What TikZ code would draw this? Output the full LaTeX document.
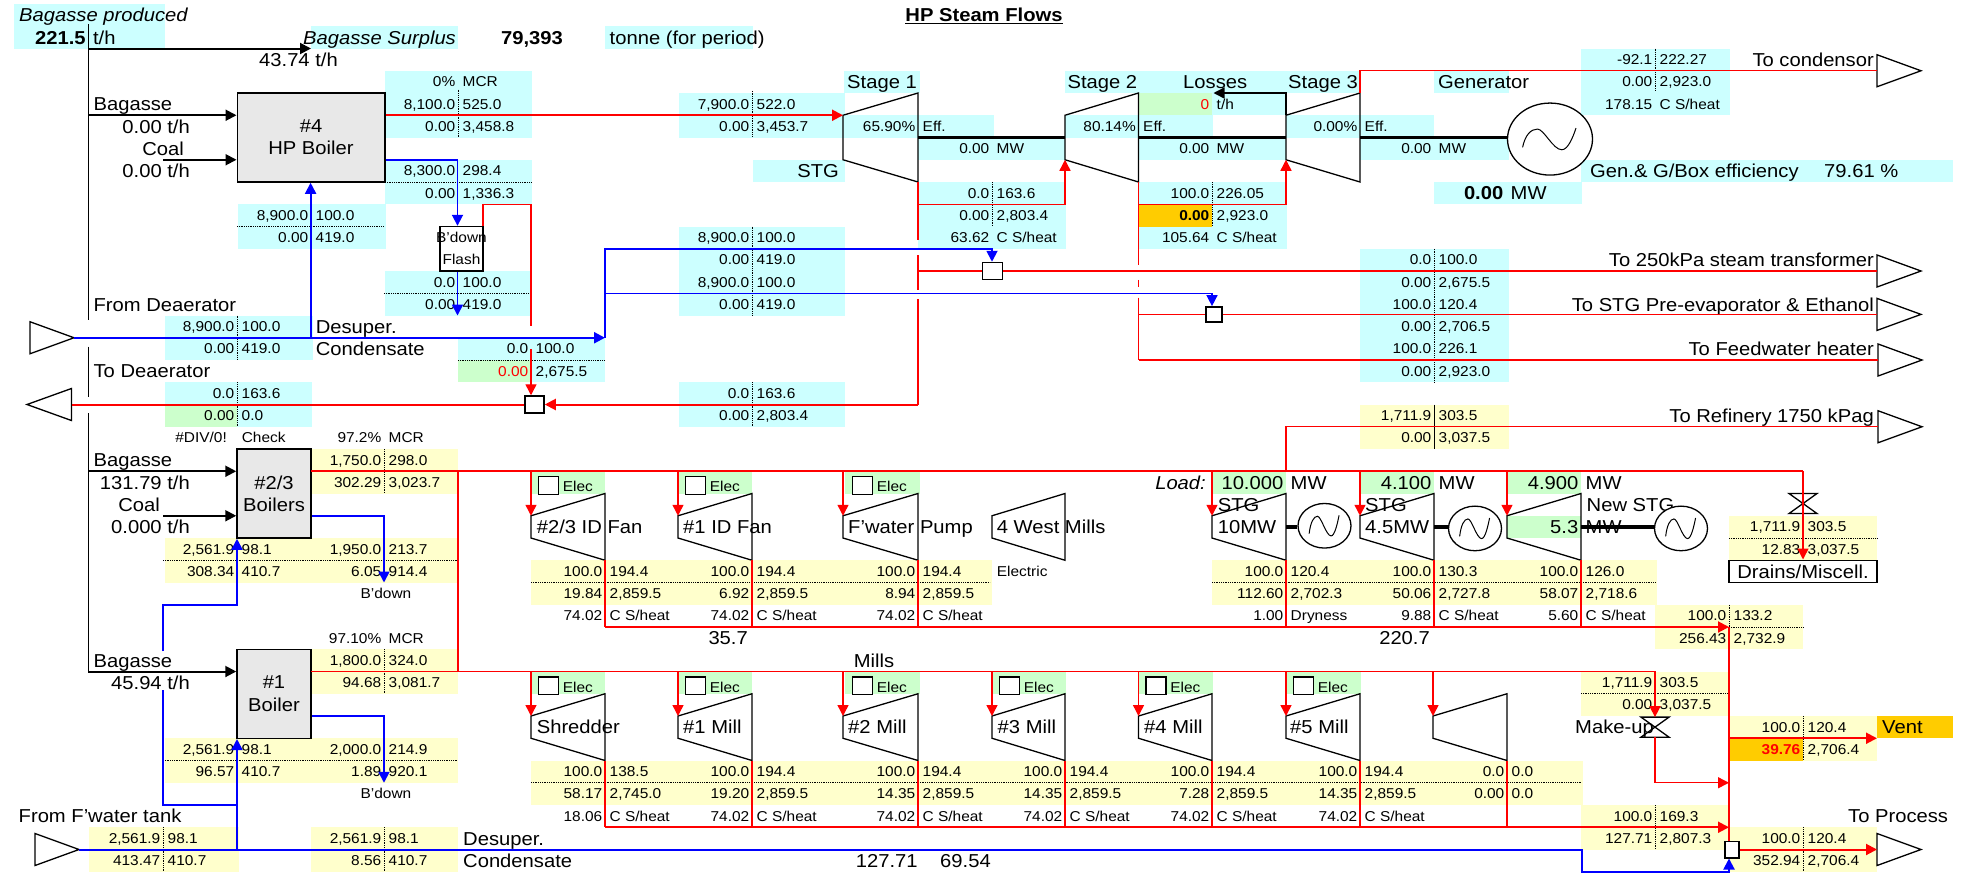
\documentclass[tikz,border=0pt]{standalone}
\usepackage{fontspec}
\setmainfont[FakeStretch=1.08]{Liberation Sans}
\usetikzlibrary{arrows.meta,shapes.geometric}
\definecolor{cellcyan}{RGB}{204,255,255}
\definecolor{cellyellow}{RGB}{255,255,204}
\definecolor{cellgreen}{RGB}{204,255,204}
\definecolor{cellorange}{RGB}{255,204,0}
\definecolor{boilgrey}{RGB}{232,232,232}
\definecolor{steamred}{RGB}{255,0,0}
\definecolor{waterblue}{RGB}{0,0,255}
\newcommand{\smallfont}{\fontsize{14.3}{16}\selectfont}
\newcommand{\bigfont}{\fontsize{18.7}{22.25}\selectfont}
\tikzset{
  valL/.style={anchor=east,xshift=-2.5pt,inner sep=0pt,font=\smallfont,text height=10pt,text depth=0pt},
  valR/.style={anchor=west,xshift=4.5pt,inner sep=0pt,font=\smallfont,text height=10pt,text depth=0pt},
  big/.style={font=\bigfont,text height=13.3pt},
  txtS/.style={inner sep=0pt,font=\smallfont,text height=10pt,text depth=0pt},
  txtB/.style={inner sep=0pt,font=\bigfont,text height=13.3pt,text depth=0pt},
  boiler/.style={draw,line width=1.5pt,fill=boilgrey,inner sep=0pt,align=center,font=\bigfont},
  flashbox/.style={draw,line width=1.4pt,inner sep=0pt,align=center,font=\smallfont},
  mixbox/.style={draw,line width=1.5pt,fill=white,inner sep=0pt},
  checkbox/.style={draw,line width=1.4pt,fill=white,inner sep=0pt,minimum width=20pt,minimum height=17.5pt},
  turbshape/.style={draw,line width=1.3pt},
  portshape/.style={draw,line width=1.3pt,fill=white},
  genshape/.style={ellipse,draw,line width=1.3pt,fill=white,inner sep=0pt},
  gencurve/.style={draw,line width=1pt},
  shaft/.style={draw,line width=3.5pt},
  splitline/.style={draw,line width=.8pt,densely dotted},
  feedline/.style={draw,line width=1.4pt},
  feedflow/.style={draw,line width=2pt,-{Stealth[length=11pt,width=11pt,inset=0pt]}},
  redfine/.style={draw=steamred,line width=1.4pt},
  redmain/.style={draw=steamred,line width=2pt},
  redflow/.style={redfine,-{Stealth[length=11pt,width=11pt,inset=0pt]}},
  redmainflow/.style={redmain,-{Stealth[length=11pt,width=11pt,inset=0pt]}},
  bluefine/.style={draw=waterblue,line width=1.5pt},
  blueflow/.style={draw=waterblue,line width=1.8pt,-{Stealth[length=11pt,width=11pt,inset=0pt]}}
}
\newcommand{\pair}[6][]{%
  \node[valL,#1] (#2L) at (#3,#4+.5) {#5};
  \node[valR,#1] (#2R) at (#3,#4+.5) {#6};}
\newcommand{\stream}[7]{\pair{#1u}{#2}{#3}{#4}{#5}\pair{#1v}{#2}{#3+1}{#6}{#7}}
\newcommand{\turbine}[5]{%
  \draw[turbshape] (#2,#4+1) -- (#3,#4) -- (#3,#4+#5) -- (#2,#4+#5-1) -- cycle;
  \coordinate (#1-in) at (#2,#4+1);
  \coordinate (#1-sd) at (#2,#4+#5-1);
  \coordinate (#1-tr) at (#3,#4);
  \coordinate (#1-out) at (#3,#4+#5);
  \coordinate (#1-ls) at (#2,#4+#5/2);
  \coordinate (#1-rs) at (#3,#4+#5/2);}
\newcommand{\genset}[7]{%
  \node[genshape,minimum width=#4pt,minimum height=#5pt] (#1) at (#2,#3) {};
  \begin{scope}[shift={(#1.center)},x=#6pt,y=#7pt]
    \draw[gencurve] (-27.4,-8.3) .. controls (-25,4) and (-19,10) .. (-12.6,10)
      .. controls (-6,10) and (3,-10.7) .. (11.8,-10.7)
      .. controls (18,-10.7) and (23,2) .. (26,11);
  \end{scope}}
\newcommand{\port}[4]{%
  \coordinate (#1-in) at (#2,#3);
  \coordinate (#1-tip) at (#2+#4,#3);
  \draw[portshape] (#2,#3-.72) -- (#1-tip) -- (#2,#3+.72) -- cycle;}
\newcommand{\valve}[3]{%
  \draw[turbshape] (#2-14,#3) -- (#2+14,#3+.9) -- (#2-14,#3+.9) -- (#2+14,#3) -- cycle;
  \coordinate (#1-top) at (#2,#3);
  \coordinate (#1-bot) at (#2,#3+.9);}
\begin{document}
\begin{tikzpicture}[x=1pt,y=-22.25pt]
  \useasboundingbox (0,-.18) rectangle (1966,39.056);

  % cell shading
  \foreach \xa/\ra/\xb/\rb in {14/0/165/2,311/1/458/2,605/1/753/2,385/3/532/6,385/7/532/9,238/9/386/11,385/12/531/14,
    165/14/313/16,458/15/605/16,531/16/605/17,165/17/312/18,237/18/312/19,844/3/920/4,679/4/845/6,845/5/994/6,
    918/6/1065/7,753/7/845/8,918/8/1066/11,679/10/845/14,679/17/845/19,1065/3/1286/4,1212/4/1286/5,1065/5/1213/6,
    1138/6/1286/7,1138/8/1287/9,1212/9/1287/10,1138/10/1287/11,1286/3/1360/4,1286/5/1434/6,1360/6/1509/7,1434/3/1509/4,
    1434/8/1582/9,1581/2/1730/5,1581/7/1953/8,1360/11/1509/17}{\fill[cellcyan] (\xa,\ra) rectangle (\xb,\rb);}
  \foreach \xa/\ra/\xb/\rb in {1360/18/1509/20,311/20/458/22,165/24/458/26,311/29/458/31,165/33/458/35,89/37/239/39,
    311/37/458/39,531/25/992/27,1212/25/1657/27,531/34/1583/36,1655/27/1803/29,1729/23/1877/25,1581/30/1729/32,
    1729/32/1877/33,1803/33/1877/34,1581/36/1729/38,1729/37/1877/39}{\fill[cellyellow] (\xa,\ra) rectangle (\xb,\rb);}
  \foreach \xa/\ra/\xb/\rb in {165/18/237/19,458/16/531/17,1138/4/1212/5,531/21/605/22,678/21/752/22,845/21/920/22,
    1212/21/1286/22,1360/21/1434/22,1507/21/1581/22,1507/23/1581/24,531/30/605/31,678/30/752/31,845/30/920/31,
    992/30/1066/31,1138/30/1213/31,1286/30/1361/31}{\fill[cellgreen] (\xa,\ra) rectangle (\xb,\rb);}
  \foreach \xa/\ra/\xb/\rb in {1138/9/1212/10,1729/33/1803/34,1877/32/1953/33}{\fill[cellorange] (\xa,\ra) rectangle (\xb,\rb);}

  % dotted cell splits
  \foreach \x/\a/\b in {458/3.85/6,237/14/16,237/17/19,752/3.9/6,752/10/14,752/17/19,992/8/10,1212/8/10,1655/2/3.9,
    1434/11/17,384/20/22,384/29/31,163/37/39,384/37/39,1803/32/34,1803/37/39,1655/36/38,1729/27/29}{\draw[splitline] (\x,\a) -- (\x,\b);}
  \foreach \y/\a/\b in {8/385/531,10/237/384,13/384/531,16/458/605,25/163/458,34/163/458,26/531/990,26/1212/1655,
    35/531/1581,24/1729/1877,31/1581/1729,28/1729/1803}{\draw[splitline] (\a,\y) -- (\b,\y);}
  \draw[feedline,line width=.8pt] (1434,18) -- (1434,20);

  % boilers and boxes
  \node[boiler,minimum width=147.5pt,minimum height=89pt] (boilHP) at (311,6) {\#4\\HP Boiler};
  \node[boiler,minimum width=74pt,minimum height=89pt] (boil23) at (274,22) {\#2/3\\Boilers};
  \node[boiler,minimum width=74pt,minimum height=89pt] (boil1) at (274,31) {\#1\\Boiler};
  \node[flashbox,minimum width=43pt,minimum height=44.5pt] (flash) at (461.5,11) {\makebox[0pt]{B'down}\\[6pt]Flash};
  \node[mixbox,minimum width=148pt,minimum height=22.25pt,font=\bigfont] (drains) at (1803,25.5) {Drains/Miscell.};
  \node[mixbox,minimum width=19pt,minimum height=17pt] (sqA) at (534.5,18) {};
  \node[mixbox,minimum width=20pt,minimum height=17pt] (sqB) at (992.5,12) {};
  \node[mixbox,minimum width=16pt,minimum height=15pt] (sqC) at (1214,13.95) {};
  \node[mixbox,minimum width=14.4pt,minimum height=16.5pt] (sqD) at (1732,38) {};

  % big labels
  \foreach \n/\x/\y/\lab in {lbBag/93.4/4.5/Bagasse,lbFrD/93.4/13.5/From Deaerator,lbToD/93.4/16.5/To Deaerator,
    lbDsA/315.6/14.5/Desuper.,lbCnA/315.6/15.5/Condensate,lbSt1/847/3.5/Stage 1,lbSt2/1067.4/3.5/Stage 2,
    lbLos/1183/3.5/Losses,lbSt3/1288/3.5/Stage 3,lbGen/1438/3.5/Generator,lbEff/1590/7.5/{Gen.\& G/Box efficiency},
    lbEffV/1824/7.5/{79.61 \%},lbToN/609.5/1.5/{tonne (for period)},lbBgB/93.4/20.5/Bagasse,lbBgC/93.4/29.5/Bagasse,
    lbFwt/18.5/36.5/{From F'water tank},lbDsB/463/37.5/Desuper.,lbCnB/463/38.5/Condensate,lbMil/853.6/29.5/Mills,
    lbFanA/536.6/23.5/{\#2/3 ID Fan},lbFanB/683/23.5/{\#1 ID Fan},lbPmp/848/23.5/{F'water Pump},lbWst/996.7/23.5/{4 West Mills},
    lbStgA/1217.7/22.5/STG,lbTenM/1217.7/23.5/10MW,lbStgB/1365/22.5/STG,lbFouM/1365/23.5/4.5MW,lbNew/1586.5/22.5/New STG,
    lbShr/536.6/32.5/Shredder,lbMA/683/32.5/{\#1 Mill},lbMB/848/32.5/{\#2 Mill},lbMC/997.5/32.5/{\#3 Mill},
    lbMD/1144/32.5/{\#4 Mill},lbME/1290/32.5/{\#5 Mill},lbVnt/1882/32.5/Vent,lbMku/1575/32.5/Make-up,
    lbNa/855.7/38.5/127.71,lbNb/940/38.5/69.54,lbPrc/1848/36.5/To Process}
    {\node[txtB,anchor=west] (\n) at (\x,\y) {\lab};}
  \foreach \n/\x/\y/\lab in {lbSrp/338/2.5/{43.74 t/h},lbHPa/190/5.5/{0.00 t/h},lbCoA/184/6.5/Coal,lbHPb/190/7.5/{0.00 t/h},
    lbStg/839/7.5/STG,lbCnd/1874/2.5/To condensor,lbTrn/1874/11.5/To 250kPa steam transformer,
    lbEth/1874/13.5/{To STG Pre-evaporator \& Ethanol},lbFdw/1874/15.5/To Feedwater heater,lbRef/1874/18.5/To Refinery 1750 kPag,
    lbBgV/190/21.5/{131.79 t/h},lbCoB/160/22.5/Coal,lbCoV/190/23.5/{0.000 t/h},lbBcV/190/30.5/{45.94 t/h},
    lbSma/748/28.5/35.7,lbSmb/1430/28.5/220.7}
    {\node[txtB,anchor=east] (\n) at (\x,\y) {\lab};}
  \node[txtB,anchor=west,font=\bigfont\itshape] (lbPrd) at (19,.5) {Bagasse produced};
  \node[txtB,anchor=west,font=\bigfont\itshape] (lbSur) at (303,1.5) {Bagasse Surplus};
  \node[txtB,font=\bigfont\bfseries] (lbTon) at (532,1.5) {79,393};
  \node[txtB,font=\bigfont\bfseries] (lbHed) at (984,.5) {\underline{HP Steam Flows}};
  \node[txtB,anchor=east,font=\bigfont\itshape] (lbLod) at (1206,21.5) {Load:};
  \pair[big]{prod}{88.4}{1}{\textbf{221.5}}{t/h}
  \pair[big]{lda}{1286}{21}{10.000}{MW}
  \pair[big]{ldb}{1434}{21}{4.100}{MW}
  \pair[big]{ldc}{1581}{21}{4.900}{MW}
  \pair[big]{ldd}{1581}{23}{5.3}{MW}
  \pair[big]{gmw}{1506}{8}{\textbf{0.00}}{MW}

  % steam tables
  \pair{mcrH}{458}{3}{0\%}{MCR}
  \stream{sHa}{458}{4}{8,100.0}{525.0}{0.00}{3,458.8}
  \stream{sHb}{458}{7}{8,300.0}{298.4}{0.00}{1,336.3}
  \stream{sHc}{311}{9}{8,900.0}{100.0}{0.00}{419.0}
  \stream{sHd}{458}{12}{0.0}{100.0}{0.00}{419.0}
  \stream{sHe}{237}{14}{8,900.0}{100.0}{0.00}{419.0}
  \stream{sHf}{531}{15}{0.0}{100.0}{\textcolor{steamred}{0.00}}{2,675.5}
  \stream{sHg}{237}{17}{0.0}{163.6}{0.00}{0.0}
  \stream{sTa}{752}{4}{7,900.0}{522.0}{0.00}{3,453.7}
  \pair{effA}{918}{5}{65.90\%}{Eff.}
  \pair{effB}{1138.5}{5}{80.14\%}{Eff.}
  \pair{effC}{1360}{5}{0.00\%}{Eff.}
  \pair{mwA}{992}{6}{0.00}{MW}
  \pair{mwB}{1212}{6}{0.00}{MW}
  \pair{mwC}{1434}{6}{0.00}{MW}
  \pair{losR}{1212}{4}{\textcolor{steamred}{0}}{t/h}
  \stream{sTb}{992}{8}{0.0}{163.6}{0.00}{2,803.4}
  \pair{sTbh}{992}{10}{63.62}{C S/heat}
  \stream{sTc}{1212}{8}{100.0}{226.05}{\textbf{0.00}}{2,923.0}
  \pair{sTch}{1212}{10}{105.64}{C S/heat}
  \stream{sTd}{752}{10}{8,900.0}{100.0}{0.00}{419.0}
  \stream{sTe}{752}{12}{8,900.0}{100.0}{0.00}{419.0}
  \stream{sTf}{752}{17}{0.0}{163.6}{0.00}{2,803.4}
  \stream{sCa}{1655}{2}{-92.1}{222.27}{0.00}{2,923.0}
  \pair{sCah}{1655}{4}{178.15}{C S/heat}
  \stream{sPa}{1434}{11}{0.0}{100.0}{0.00}{2,675.5}
  \stream{sPb}{1434}{13}{100.0}{120.4}{0.00}{2,706.5}
  \stream{sPc}{1434}{15}{100.0}{226.1}{0.00}{2,923.0}
  \stream{sPd}{1434}{18}{1,711.9}{303.5}{0.00}{3,037.5}
  \node[txtS,anchor=east] (lbDiv) at (227,19.5) {\#DIV/0!};
  \node[txtS,anchor=west] (lbChk) at (241.6,19.5) {Check};
  \pair{mcrA}{384}{19}{97.2\%}{MCR}
  \pair{mcrB}{384}{28}{97.10\%}{MCR}
  \stream{sBa}{384}{20}{1,750.0}{298.0}{302.29}{3,023.7}
  \stream{sBb}{237}{24}{2,561.9}{98.1}{308.34}{410.7}
  \stream{sBc}{384}{24}{1,950.0}{213.7}{6.05}{914.4}
  \stream{sBd}{384}{29}{1,800.0}{324.0}{94.68}{3,081.7}
  \stream{sBe}{237}{33}{2,561.9}{98.1}{96.57}{410.7}
  \stream{sBf}{384}{33}{2,000.0}{214.9}{1.89}{920.1}
  \stream{sBg}{163}{37}{2,561.9}{98.1}{413.47}{410.7}
  \stream{sBh}{384}{37}{2,561.9}{98.1}{8.56}{410.7}
  \node[txtS] (lbBdA) at (386,26.5) {B'down};
  \node[txtS] (lbBdB) at (386,35.5) {B'down};
  \node[txtS,anchor=west] (lbEle) at (996.7,25.5) {Electric};
  \foreach \n/\x/\r/\ua/\ub/\va/\vb/\ha/\hb in {
    Fa/605/25/100.0/194.4/19.84/{2,859.5}/74.02/{C S/heat},Fb/752/25/100.0/194.4/6.92/{2,859.5}/74.02/{C S/heat},
    Fc/918/25/100.0/194.4/8.94/{2,859.5}/74.02/{C S/heat},Fd/1286/25/100.0/120.4/112.60/{2,702.3}/1.00/Dryness,
    Fe/1434/25/100.0/130.3/50.06/{2,727.8}/9.88/{C S/heat},Ff/1581/25/100.0/126.0/58.07/{2,718.6}/5.60/{C S/heat},
    Ma/605/34/100.0/138.5/58.17/{2,745.0}/18.06/{C S/heat},Mb/752/34/100.0/194.4/19.20/{2,859.5}/74.02/{C S/heat},
    Mc/918/34/100.0/194.4/14.35/{2,859.5}/74.02/{C S/heat},Md/1065/34/100.0/194.4/14.35/{2,859.5}/74.02/{C S/heat},
    Me/1212/34/100.0/194.4/7.28/{2,859.5}/74.02/{C S/heat},Mf/1360/34/100.0/194.4/14.35/{2,859.5}/74.02/{C S/heat}}
    {\stream{s\n}{\x}{\r}{\ua}{\ub}{\va}{\vb}
     \pair{s\n h}{\x}{\r+2}{\ha}{\hb}}
  \stream{sMg}{1507}{34}{0.0}{0.0}{0.00}{0.0}
  \stream{sXa}{1729}{27}{100.0}{133.2}{256.43}{2,732.9}
  \stream{sXb}{1803}{23}{1,711.9}{303.5}{12.83}{3,037.5}
  \stream{sXc}{1655}{30}{1,711.9}{303.5}{0.00}{3,037.5}
  \stream{sXd}{1803}{32}{100.0}{120.4}{\textbf{\textcolor{steamred}{39.76}}}{2,706.4}
  \stream{sXe}{1655}{36}{100.0}{169.3}{127.71}{2,807.3}
  \stream{sXf}{1803}{37}{100.0}{120.4}{352.94}{2,706.4}

  % electric drive tick boxes
  \foreach \n/\x/\r in {Ka/531/21,Kb/678/21,Kc/845/21,Kd/531/30,Ke/678/30,Kf/845/30,Kg/992/30,Kh/1138.5/30,Ki/1286/30}{
    \node[checkbox] (ck\n) at (\x+17.6,\r+.64) {};
    \node[txtS,anchor=west] (el\n) at (\x+31.7,\r+.7) {Elec};}

  % turbines
  \turbine{st1}{843}{918}{4}{4}
  \turbine{st2}{1065}{1138.5}{4}{4}
  \turbine{st3}{1286}{1360}{4}{4}
  \foreach \n/\xa/\xb/\r in {t23/531/605/22,tid/678/752/22,tfw/843/918/22,twm/992/1065/22,t10/1212/1286/22,t45/1360/1434/22,
    tnw/1507/1581/22,tsh/531/605/31,tm1/678/752/31,tm2/843/918/31,tm3/992/1065/31,tm4/1138.5/1212/31,tm5/1286/1360/31,
    tm0/1433/1507/31}{\turbine{\n}{\xa}{\xb}{\r}{3}}
  \genset{genM}{1550}{6.07}{85}{72}{1}{1}
  \genset{gen10}{1324.5}{23.45}{53}{44.6}{.56}{.95}
  \genset{gen45}{1475}{23.57}{53}{44.6}{.56}{.95}
  \genset{genNw}{1681}{23.57}{53}{44.6}{.56}{.95}
  \foreach \a/\b in {st1-rs/st2-ls,st2-rs/st3-ls}{\draw[shaft] (\a) -- (\b);}
  \foreach \a/\b in {st3-rs/genM,t10-rs/gen10,t45-rs/gen45,tnw-rs/genNw}{\draw[shaft] (\a) -- (\a -| \b.west);}

  % ports and valves
  \port{pCond}{1877}{3}{44}
  \port{pTrans}{1877}{12}{44}
  \port{pEth}{1877}{13.95}{44}
  \port{pFeed}{1878}{16}{44}
  \port{pRef}{1878}{19}{44}
  \port{pProc}{1877}{38}{44}
  \port{pFdw}{35}{38}{44}
  \port{pDeaIn}{30}{15}{44}
  \port{pDeaOut}{71.5}{18}{-44.5}
  \valve{vDr}{1803}{22}
  \valve{vMk}{1655}{32.05}

  % junction points
  \foreach \n/\x/\y in {stkA/88.4/.9,stkB/88.4/14.2,stkC/88.4/15.4,stkD/88.4/17.65,stkE/88.4/18.4,stkF/88.4/30,
    surA/88.4/2,surB/311/2,bagHP/88.4/5,coalHP/163.3/7,bag23/88.4/21,coal23/163.3/23,bag1/88.4/30,lsA/1213.5/4,
    hpBd/457.5/7,fdrop/457.5/14,flA/483/9,flB/531/9,flC/531/14.45,flD/531/15.5,
    vaA/918/10.6,vaB/918/11.3,vaC/918/12.85,vaD/918/13.27,vaE/918/18,jSa/918/9,jSb/918/12,
    vbA/1138.5/11.73,vbB/1138.5/12.4,vbC/1138.5/12.7,vbD/1138.5/13.2,vbE/1138.5/16,jSc/1138.5/9,jSd/1138.5/13.95,
    dtA/605/15,dtB/310.6/15,dtC/992/11,dtD/605/13,dtE/1212/13,
    hdrA/311/21,hdrB/1803/21,hdrC/605/28,hdrD/1729/28,hdrE/311/30,hdrF/1655/30,hdrG/605/37,hdrH/1729/37,
    lnkA/458/21,lnkB/458/30,rfA/1286/21,mkA/1729/35,vtA/1729/33,vtB/1877/33,
    fwA/1581.5/38,fwB/1729/39,fbA/237/38,fbB/237/36,fbC/163/30.85,fbD/163/29.1,fbE/237/27,
    bdA/384/23,bdB/384/26,bdC/384/32,bdD/384/35}{\coordinate (\n) at (\x,\y);}

  % bagasse and coal feeds
  \foreach \a/\b in {stkA/stkB,stkC/stkD,stkE/stkF}{\draw[feedline] (\a) -- (\b);}
  \draw[feedflow] (surA) -- (surB);
  \foreach \a/\b in {bagHP/boilHP,coalHP/boilHP,bag23/boil23,coal23/boil23,bag1/boil1}{\draw[feedflow] (\a) -- (\a -| \b.west);}

  % high pressure steam
  \draw[redmainflow] (st1-in -| boilHP.east) -- (st1-in);
  \foreach \a/\b in {st1-out/vaA,vaB/vaC,vaD/vaE,st2-out/vbA,vbB/vbC,vbD/vbE}{\draw[redfine] (\a) -- (\b);}
  \draw[redflow] (jSa) -| (st2-sd);
  \draw[redflow] (jSc) -| (st3-sd);
  \draw[redmainflow] (vaE) -- (sqA.east);
  \draw[redmain] (sqA.west) -- (pDeaOut-in);
  \draw[redfine] (jSb) -- (sqB.west);
  \draw[redfine] (sqB.east) -- (pTrans-in);
  \draw[redfine] (jSd) -- (sqC.west);
  \draw[redfine] (sqC.east) -- (pEth-in);
  \draw[redfine] (vbE) -- (pFeed-in);
  \draw[redfine] (st3-tr) |- (pCond-in);
  \draw[feedflow,line width=1.5pt] (st3-in) |- (lsA);
  \draw[redfine] (flA |- flash.north) -- (flA) -- (flB) -- (flC);
  \draw[redflow] (flD) -- (flD |- sqA.north);

  % deaerator water
  \draw[blueflow,line width=2.2pt] (pDeaIn-tip) -- (dtA);
  \draw[blueflow] (dtB) -- (dtB |- boilHP.south);
  \draw[blueflow] (dtA) |- (dtC) -- (dtC |- sqB.north);
  \draw[blueflow,line width=1.5pt] (dtD) -- (dtE) -- (dtE |- sqC.north);
  \draw[blueflow] (hpBd -| boilHP.east) -- (hpBd) -- (hpBd |- flash.north);
  \draw[blueflow] (hpBd |- flash.south) -- (fdrop);

  % medium pressure headers
  \draw[redmain] (hdrA) -- (hdrB);
  \draw[redflow] (hdrB) -- (hdrB |- drains.north);
  \draw[redfine] (lnkA) -- (lnkB);
  \draw[redfine] (rfA) |- (pRef-in);
  \draw[redflow] (hdrE) -- (hdrF) -- (vMk-top);
  \draw[redflow] (vMk-bot) |- (mkA);
  \foreach \n in {t23,tid,tfw,t10,t45,tnw}{
    \draw[redflow] (\n-in |- hdrA) -- (\n-in);
    \draw[redfine] (\n-out) -- (\n-out |- hdrC);}
  \foreach \n in {tsh,tm1,tm2,tm3,tm4,tm5,tm0}{
    \draw[redflow] (\n-in |- hdrE) -- (\n-in);
    \draw[redmain] (\n-out) -- (\n-out |- hdrG);}

  % exhaust to process
  \draw[redmainflow] (hdrC) -- (hdrD);
  \draw[redmainflow] (hdrG) -- (hdrH);
  \draw[redmain] (hdrD) -- (hdrD |- sqD.north);
  \draw[redmainflow] (vtA) -- (vtB);
  \draw[redmainflow] (sqD.east) -- (pProc-in);

  % feedwater
  \draw[blueflow,line width=2pt] (pFdw-tip) -- (fwA) |- (fwB) -- (fwB |- sqD.south);
  \draw[blueflow] (fbA) -- (fbA |- boil1.south);
  \draw[bluefine] (fbB) -| (fbC);
  \draw[blueflow] (fbD) |- (fbE) -- (fbE |- boil23.south);
  \draw[blueflow] (bdA -| boil23.east) -- (bdA) -- (bdB);
  \draw[blueflow] (bdC -| boil1.east) -- (bdC) -- (bdD);
\end{tikzpicture}
\end{document}
